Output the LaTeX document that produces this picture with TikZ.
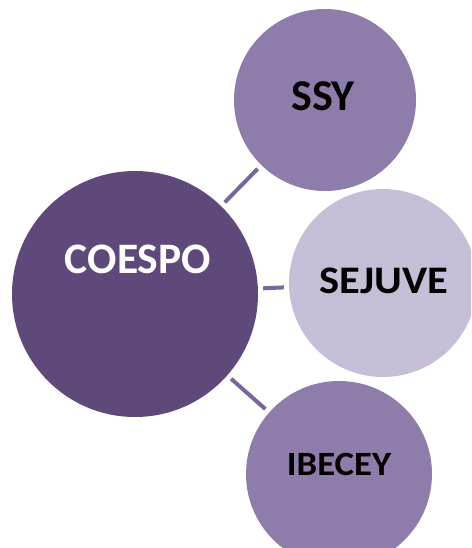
\documentclass[tikz,border=0pt]{standalone}
\usepackage{fontspec}
\setmainfont{Carlito}
\definecolor{dark}{HTML}{5F497A}
\definecolor{mid}{HTML}{8E7CAA}
\definecolor{light}{HTML}{C6BED6}
\definecolor{linec}{HTML}{7C659F}
\begin{document}
\begin{tikzpicture}[x=1pt,y=-1pt,
  disc/.style={circle, inner sep=0pt, draw=none},
  lbl/.style={inner sep=0pt, anchor=center, font=\bfseries},
  conn/.style={draw=linec, line width=4pt, shorten <=5pt, shorten >=5pt}]
\useasboundingbox (0,0) rectangle (471,548);
\begin{scope}
\clip (0,0) rectangle (471,548);
\node[disc, fill=dark, minimum size=246pt] (coespo) at (135,294) {};
\node[disc, fill=mid, minimum size=182pt] (ssy) at (325,100) {};
\node[disc, fill=light, minimum size=188pt] (sejuve) at (383,283) {};
\node[disc, fill=mid, minimum size=186pt] (ibecey) at (339,474) {};
\end{scope}
\draw[conn] (coespo) -- (ssy);
\draw[conn] (coespo) -- (sejuve);
\draw[conn] (coespo) -- (ibecey);
\node[lbl, text=white, font=\bfseries\fontsize{43.5}{43.5}\selectfont] (tcoespo) at (138,259) {COESPO};
\node[lbl, text=black, font=\bfseries\fontsize{44}{44}\selectfont] (tssy) at (323,96) {SSY};
\node[lbl, text=black, font=\bfseries\fontsize{39}{39}\selectfont] (tsejuve) at (384,281) {\scalebox{1.09}[1]{SEJUVE}};
\node[lbl, text=black, font=\bfseries\fontsize{34}{34}\selectfont] (tibecey) at (339,464) {\scalebox{1.08}[1]{IBECEY}};
\end{tikzpicture}
\end{document}
